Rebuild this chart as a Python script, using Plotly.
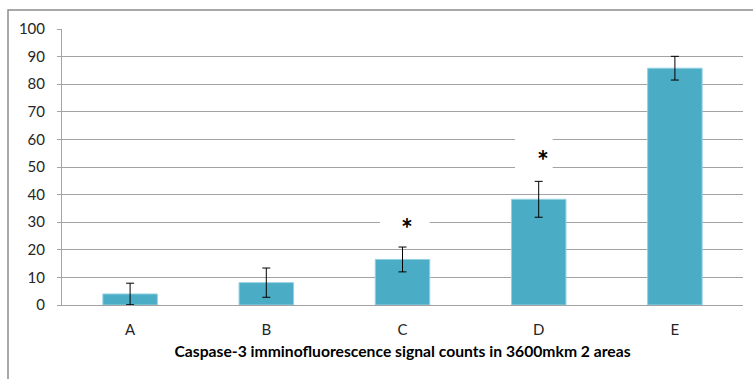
import plotly.graph_objects as go

# Caspase-3 signal counts per group, with error bar half-widths
groups = ["A", "B", "C", "D", "E"]
counts = [4.0, 8.1, 16.5, 38.3, 85.8]
errors = [3.9, 5.3, 4.5, 6.5, 4.3]

# significance marks: group -> height of the asterisk
marked = {"C": 30.0, "D": 54.7}

y_ticks = [0, 10, 20, 30, 40, 50, 60, 70, 80, 90, 100]

FONT = "Lato"
GRID = "#a3a3a3"
BAR = "#4bacc6"

fig = go.Figure()
fig.add_trace(go.Bar(
    x=groups,
    y=counts,
    width=0.4,
    marker=dict(color=BAR, line=dict(color="#93d1e2", width=1)),
    error_y=dict(type="data", array=errors, visible=True,
                 color="#000000", thickness=1, width=4),
))

# white patches behind the asterisks, interrupting the gridlines
patch = {"C": (-0.165, 0.2, 24.0, 37.0), "D": (-0.174, 0.103, 47.0, 64.0)}
for g, (dx0, dx1, y0, y1) in patch.items():
    i = groups.index(g)
    fig.add_shape(type="rect", xref="x", yref="y",
                  x0=i + dx0, x1=i + dx1, y0=y0, y1=y1,
                  fillcolor="white", line=dict(width=0), layer="above")

for g, yv in marked.items():
    i = groups.index(g)
    fig.add_annotation(x=i + 0.03, y=yv, xref="x", yref="y", text="<b>*</b>",
                       showarrow=False, yanchor="middle", yshift=-6,
                       font=dict(family=FONT, size=28, color="#000000"))

# outer chart frame (only its top and left edges fall inside the page)
fig.add_shape(type="rect", xref="paper", yref="paper",
              x0=-0.0793, x1=1.2, y0=-0.6, y1=1.0688,
              line=dict(color="#8c8c8c", width=1.5), fillcolor="rgba(0,0,0,0)",
              layer="below")

fig.update_layout(
    width=753, height=379,
    margin=dict(l=62, r=10, t=29, b=74),
    paper_bgcolor="white", plot_bgcolor="white",
    showlegend=False,
    bargap=0.6,
    font=dict(family=FONT, size=15, color="#404040"),
    xaxis=dict(
        showgrid=False, showline=True, linecolor=GRID, linewidth=1,
        ticks="", tickfont=dict(family=FONT, size=15, color="#262626"),
        ticklabelstandoff=11,
        title=dict(text="<b>Caspase-3 imminofluorescence signal counts in 3600mkm 2 areas</b>",
                   font=dict(family=FONT, size=15.7, color="#000000"), standoff=9),
    ),
    yaxis=dict(
        range=[0, 100], tickvals=y_ticks, showgrid=True, gridcolor=GRID,
        gridwidth=1, showline=True, linecolor=GRID, linewidth=1,
        ticks="outside", ticklen=4, tickcolor=GRID,
        tickfont=dict(family=FONT, size=15, color="#262626"),
        ticklabelstandoff=9, zeroline=False,
    ),
)

fig.write_html("out.html")
